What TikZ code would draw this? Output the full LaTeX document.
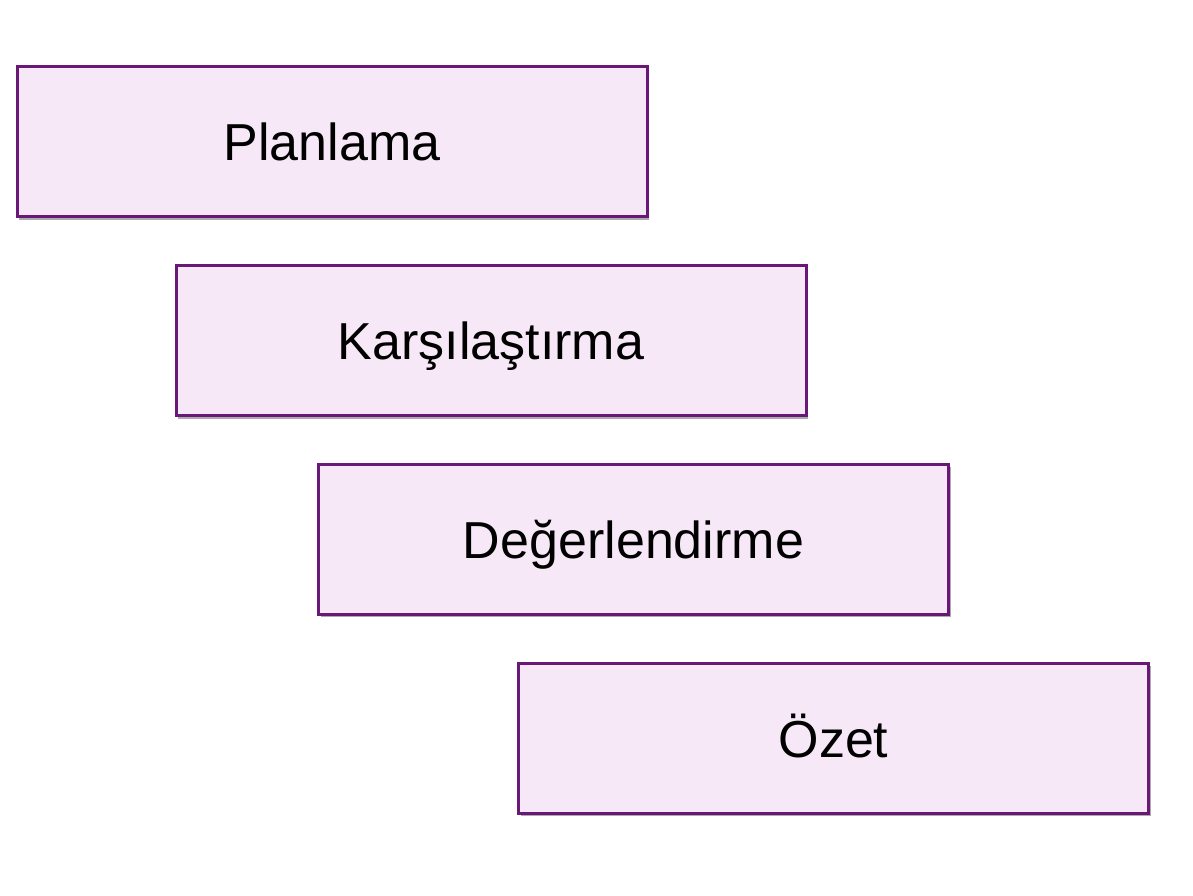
\documentclass[tikz,border=0pt]{standalone}
\usepackage{fontspec}
\setmainfont{Liberation Sans}
\usetikzlibrary{shadows}
\definecolor{boxfill}{HTML}{F7E8F8}
\definecolor{boxline}{HTML}{6A1878}
\begin{document}
\begin{tikzpicture}[x=1pt,y=1pt,
  stagebox/.style={draw=boxline, line width=3pt, fill=boxfill,
    minimum width=630pt, minimum height=150pt, inner sep=0pt,
    text height=38pt, text depth=0pt,
    font=\fontsize{52}{60}\selectfont,
    drop shadow={shadow xshift=2pt, shadow yshift=-3pt, opacity=.55, fill=black!60}}]
\useasboundingbox (0,0) rectangle (1193,896);
\node[stagebox] (p) at (332,754) {Planlama};
\node[stagebox] (k) at (491,555) {Karşılaştırma};
\node[stagebox] (d) at (633.5,356.5) {Değerlendirme};
\node[stagebox] (o) at (833.5,157.5) {Özet};
\end{tikzpicture}
\end{document}
